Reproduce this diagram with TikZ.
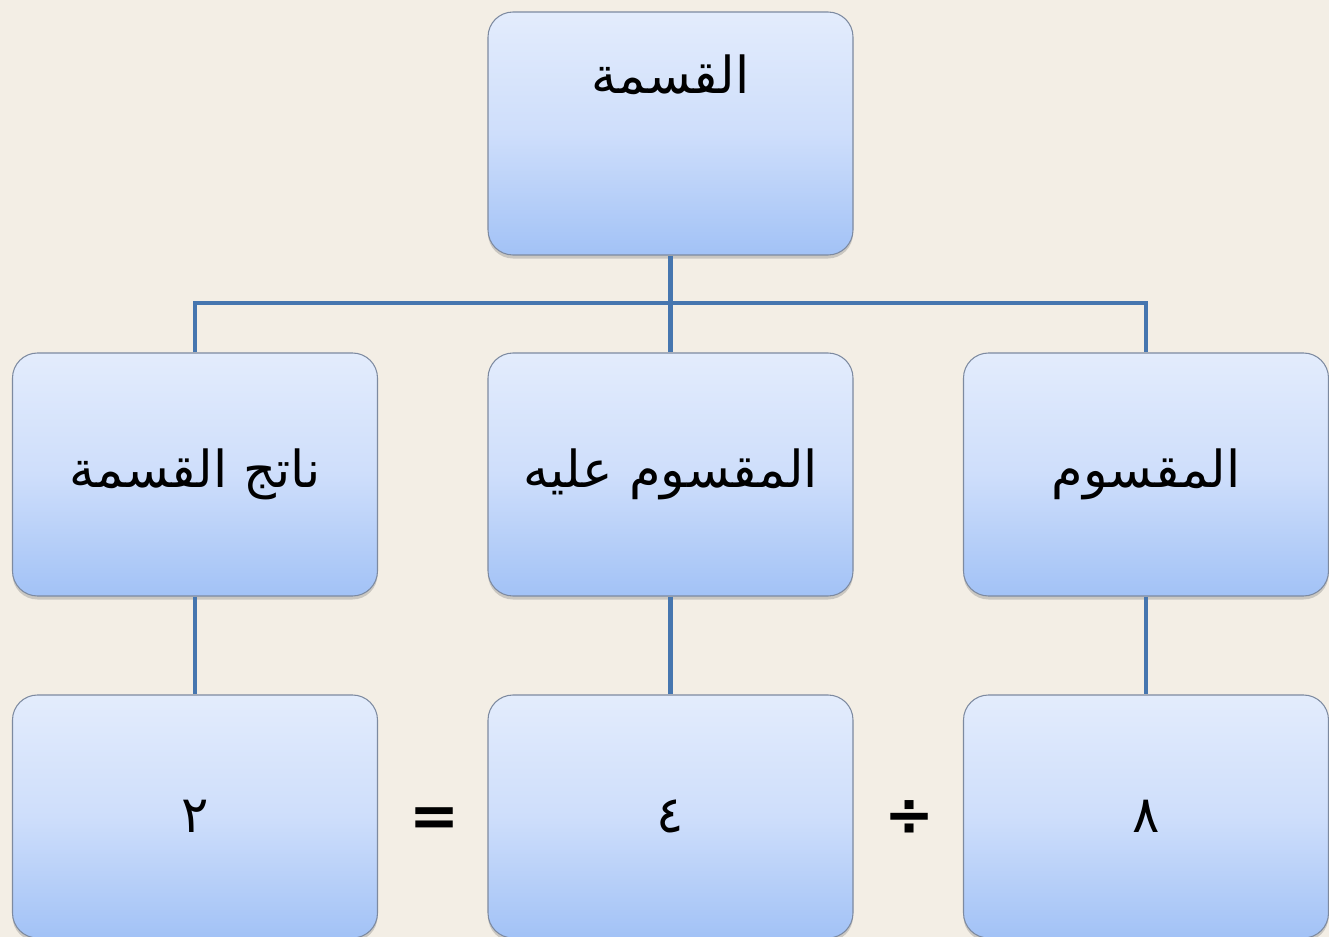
\documentclass[tikz,border=0pt]{standalone}
\usepackage{fontspec}
\usepackage{tikz}
\usetikzlibrary{shadows}
\TeXXeTstate=1
\newfontfamily\arabicfont[Script=Arabic]{DejaVu Sans}
\newcommand{\lb}{7.3}
\newcommand{\hb}{4.86}
\newcommand{\taille}[1]{\fontsize{#1}{\dimexpr #1*12/10}\selectfont}
\definecolor{fondpage}{RGB}{243,238,229}
\definecolor{bleuhaut}{RGB}{227,236,252}
\definecolor{bleumilieu}{RGB}{206,222,251}
\definecolor{bleubas}{RGB}{162,194,246}
\definecolor{bordboite}{RGB}{125,138,160}
\definecolor{bleutrait}{RGB}{70,118,175}
\tikzstyle{boite}=[draw=bordboite,line width=0.6pt,rounded corners=0.5cm,top color=bleuhaut,bottom color=bleubas,middle color=bleumilieu,minimum width=\lb cm,minimum height=\hb cm,drop shadow={shadow xshift=0pt,shadow yshift=-2pt,opacity=0.35}]
\tikzstyle{texte}=[font=\arabicfont\taille{29pt},text=black]
\tikzstyle{signe}=[font=\arabicfont\bfseries\taille{34pt},text=black]
\tikzstyle{trait}=[bleutrait,line width=2.3pt]

\begin{document}
\begin{tikzpicture}

\useasboundingbox (0,0) rectangle (26.58,-18.74);
\fill[fondpage] (0,0) rectangle (26.58,-18.74);

% premiere ligne
\node[boite] (qisma) at (13.41,-2.67) {};
\node[texte] (titre) at (13.41,-1.5) {\beginR القسمة\endR};

% deuxieme ligne
\node[boite,texte] (natij) at (3.9,-9.49) {\beginR ناتج القسمة\endR};
\node[boite,texte] (alayh) at (13.41,-9.49) {\beginR المقسوم عليه\endR};
\node[boite,texte] (mqs) at (22.92,-9.49) {\beginR المقسوم\endR};

% troisieme ligne
\node[boite,texte] (deux) at (3.9,-16.33) {٢};
\node[boite,texte] (quatre) at (13.41,-16.33) {٤};
\node[boite,texte] (huit) at (22.92,-16.33) {٨};

\node[signe] (egal) at (8.7,-16.44) {=};
\node[signe] (divise) at (18.2,-16.36) {÷};

\draw[trait] (qisma.south) -- ++(0,-0.94) coordinate (jonction);
\draw[trait] (natij.north) |- (jonction) -| (mqs.north);
\draw[trait] (jonction) -- (alayh.north);

\foreach \h/\b in {natij/deux,alayh/quatre,mqs/huit}
\draw[trait] (\h.south) -- (\b.north);

\end{tikzpicture}
\end{document}
